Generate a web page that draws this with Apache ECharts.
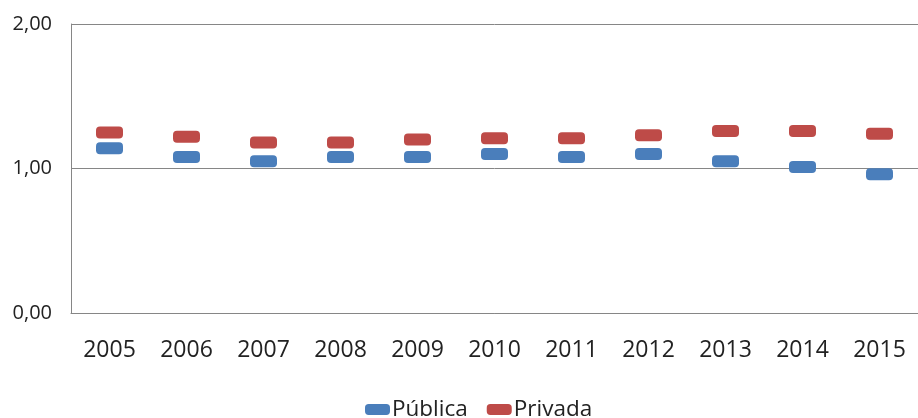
<!DOCTYPE html>
<html>
<head>
<meta charset="utf-8">
<script src="https://cdn.jsdelivr.net/npm/echarts@6/dist/echarts.min.js"></script>
<style>html,body{margin:0;padding:0;background:#fff}#c{width:918px;height:418px}</style>
</head>
<body>
<div id="c"></div>
<script>
const years = ['2005','2006','2007','2008','2009','2010','2011','2012','2013','2014','2015'];
const publica = [1.14, 1.08, 1.05, 1.08, 1.08, 1.10, 1.08, 1.10, 1.05, 1.01, 0.96];
const privada = [1.25, 1.22, 1.18, 1.18, 1.20, 1.21, 1.21, 1.23, 1.26, 1.26, 1.24];
const yTickLabels = ['0,00', '1,00', '2,00'];

// rounded "pill" marker used for both series and the legend
const pill = 'path://M4,0H23A4,4,0,0,1,27,4V8A4,4,0,0,1,23,12H4A4,4,0,0,1,0,8V4A4,4,0,0,1,4,0Z';
const font = 'Open Sans';

const chart = echarts.init(document.getElementById('c'), null, { renderer: 'canvas' });
chart.setOption({
  animation: false,
  textStyle: { fontFamily: font },
  grid: { left: 71, right: 0, top: 24, bottom: 105 },
  xAxis: {
    type: 'category',
    data: years,
    axisLine: { lineStyle: { color: '#868686', width: 1 } },
    axisTick: { show: false },
    axisLabel: { color: '#222', fontSize: 23, margin: 26, fontFamily: font }
  },
  yAxis: {
    type: 'value',
    min: 0, max: 2, interval: 1,
    axisLine: { show: true, lineStyle: { color: '#868686', width: 1 } },
    axisTick: { show: false },
    splitLine: { lineStyle: { color: '#868686', width: 1 } },
    axisLabel: {
      color: '#222', fontSize: 20, margin: 19, fontFamily: font,
      formatter: v => yTickLabels[Math.round(v)]
    }
  },
  legend: {
    top: 393,
    left: 360,
    padding: [5, 5],
    itemWidth: 25, itemHeight: 12, itemGap: 19,
    textStyle: { color: '#222', fontSize: 22.5, fontFamily: font, padding: [0, 0, 0, -3] },
    data: [
      { name: 'Pública', icon: pill },
      { name: 'Privada', icon: pill }
    ]
  },
  series: [
    {
      name: 'Pública', type: 'scatter', data: publica,
      symbol: pill, symbolSize: [27, 12], symbolKeepAspect: false,
      itemStyle: { color: '#4a7ebb', opacity: 1 }
    },
    {
      name: 'Privada', type: 'scatter', data: privada,
      symbol: pill, symbolSize: [27, 12], symbolKeepAspect: false,
      itemStyle: { color: '#be4b48', opacity: 1 }
    }
  ]
});
</script>
</body>
</html>
